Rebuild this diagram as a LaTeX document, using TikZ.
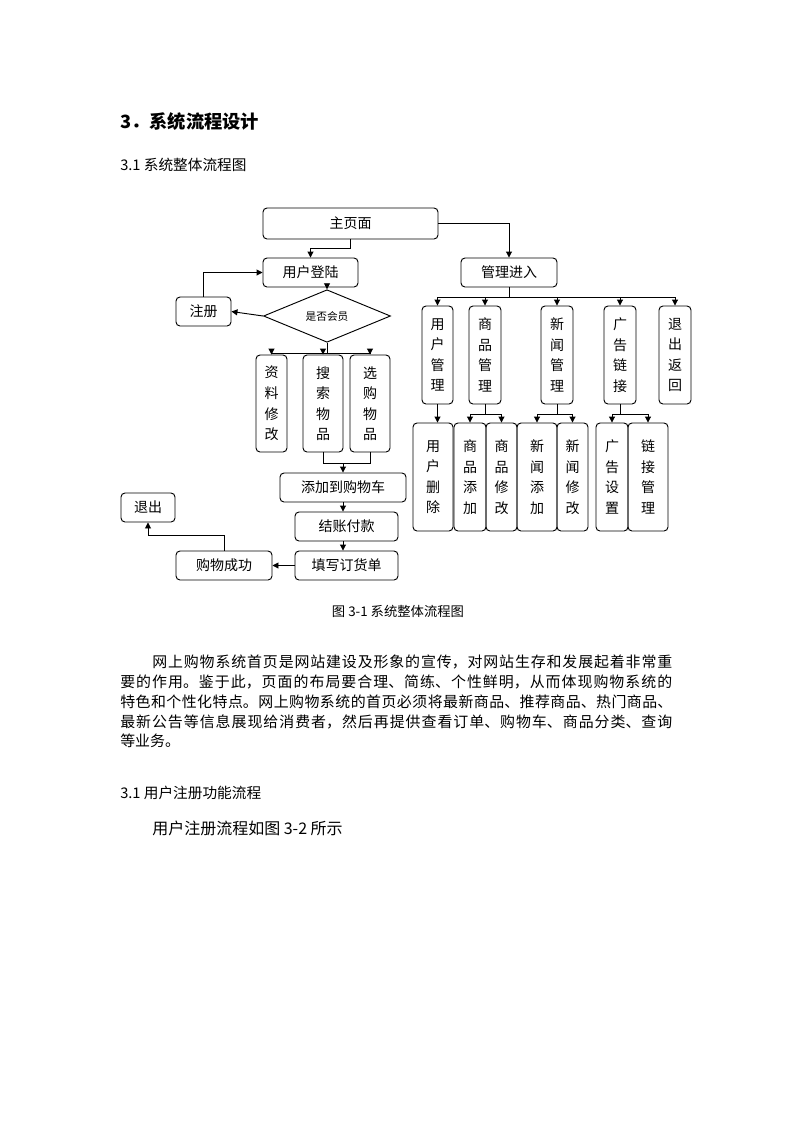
\documentclass[tikz,border=0pt]{standalone}
\usepackage{fontspec}
\setmainfont{Noto Sans CJK SC}
\usetikzlibrary{arrows.meta,shapes.geometric}
\XeTeXlinebreaklocale "zh"
\XeTeXlinebreakskip=0pt plus 3pt minus 1pt
\newcommand\jline[1]{\parbox{414pt}{\parindent0pt\parfillskip0pt\relax #1}}
\begin{document}
\begin{tikzpicture}[x=0.75pt,y=-0.75pt,
  box/.style={draw, rounded corners=3pt, line width=0.7pt, inner sep=0pt,
    font=\fontsize{10.5}{15.4}\selectfont, align=center},
  bw/.style={minimum width=#1*0.75pt},
  bh/.style={minimum height=#1*0.75pt},
  ln/.style={line width=0.7pt},
  arr/.style={ln, -{Triangle[length=4.5pt,width=4.5pt]}},
  ptext/.style={anchor=west, inner sep=0pt, font=\fontsize{11.2}{14}\selectfont}]
\useasboundingbox (0,0) rectangle (793,1122);

% headings
\node[anchor=west, inner sep=0pt, font=\fontsize{13.7}{16}\selectfont\bfseries] (h1) at (120,122) {3．系统流程设计};
\node[anchor=west, inner sep=0pt, font=\fontsize{11}{13}\selectfont] (h2) at (120,165) {3.1 系统整体流程图};

% left branch
\node[box, bw=175, bh=31] (main) at (350.5,223.5) {主页面};
\node[box, bw=95, bh=29] (login) at (310.5,272.5) {用户登陆};
\node[box, bw=55, bh=29] (reg) at (203.5,311.5) {注册};
\node[draw, diamond, line width=0.7pt, inner sep=0pt, minimum width=127*0.75pt, minimum height=38*0.75pt,
  font=\fontsize{8}{9}\selectfont] (dia) at (327,316) {是否会员};
\node[box, bw=31, bh=97] (zl) at (271.5,403.5) {资\\料\\修\\改};
\node[box, bw=40, bh=97] (ss) at (323,403.5) {搜\\索\\物\\品};
\node[box, bw=40, bh=97] (xg) at (370,403.5) {选\\购\\物\\品};
\node[box, bw=126, bh=29] (add) at (343,487.5) {添加到购物车};
\node[box, bw=103, bh=29] (pay) at (346.5,526.5) {结账付款};
\node[box, bw=103, bh=29] (fill) at (346.5,565.5) {填写订货单};
\node[box, bw=96, bh=29] (succ) at (224,565.5) {购物成功};
\node[box, bw=54, bh=29] (exit) at (148,507.5) {退出};

% right branch
\node[box, bw=96, bh=29] (mgr) at (509,272.5) {管理进入};
\node[box, bw=31, bh=98] (um) at (437.5,355) {用\\户\\管\\理};
\node[box, bw=32, bh=98] (gm) at (485,355) {商\\品\\管\\理};
\node[box, bw=32, bh=98] (nm) at (557,355) {新\\闻\\管\\理};
\node[box, bw=32, bh=98] (am) at (620,355) {广\\告\\链\\接};
\node[box, bw=32, bh=98] (tr) at (675,355) {退\\出\\返\\回};

\node[box, bw=40, bh=108] (ud) at (433,477) {用\\户\\删\\除};
\node[box, bw=32, bh=108] (ga) at (470,477) {商\\品\\添\\加};
\node[box, bw=31, bh=108] (gx) at (501.5,477) {商\\品\\修\\改};
\node[box, bw=40, bh=108] (na) at (537,477) {新\\闻\\添\\加};
\node[box, bw=31, bh=108] (nx) at (572.5,477) {新\\闻\\修\\改};
\node[box, bw=32, bh=108] (as) at (612,477) {广\\告\\设\\置};
\node[box, bw=40, bh=108] (lm) at (648,477) {链\\接\\管\\理};

% connectors left
\draw[arr] (main.south) -- ++(0,9) -| (login.north);
\draw[arr] (main.east) -| (mgr.north);
\draw[arr] (reg.north) |- (login.west);
\draw[arr] (login.south -| dia.north) -- (dia.north);
\draw[arr] (dia.west) -- (reg.east);
\draw[ln] (dia.south) -- ++(0,11) coordinate (j1);
\draw[ln] (zl.north |- j1) -- (xg.north |- j1);
\draw[arr] (zl.north |- j1) -- (zl.north);
\draw[arr] (ss.north |- j1) -- (ss.north);
\draw[arr] (xg.north |- j1) -- (xg.north);
\draw[ln] (ss.south) -- ++(0,11) coordinate (j2) -| (xg.south);
\draw[arr] (add.north |- j2) -- (add.north);
\draw[arr] (add.south) -- (add.south |- pay.north);
\draw[arr] (pay.south -| add.south) -- (fill.north -| add.south);
\draw[arr] (fill.west) -- (succ.east);
\draw[arr] (succ.north) -- ++(0,-15) -| (exit.south);

% connectors right
\draw[ln] (mgr.south) -- ++(0,10) coordinate (j3);
\draw[ln] (um.north |- j3) -- (tr.north |- j3);
\foreach \n in {um,gm,nm,am,tr} \draw[arr] (\n.north |- j3) -- (\n.north);
\draw[arr] (um.south) -- (um.south |- ud.north);
\draw[ln] (gm.south) -- ++(0,10) coordinate (j4);
\draw[ln] (ga.north |- j4) -- (gx.north |- j4);
\draw[arr] (ga.north |- j4) -- (ga.north);
\draw[arr] (gx.north |- j4) -- (gx.north);
\draw[ln] (nm.south) -- ++(0,10) coordinate (j5);
\draw[ln] (na.north |- j5) -- (nx.north |- j5);
\draw[arr] (na.north |- j5) -- (na.north);
\draw[arr] (nx.north |- j5) -- (nx.north);
\draw[ln] (am.south) -- ++(0,10) coordinate (j6);
\draw[ln] (as.north |- j6) -- (lm.north |- j6);
\draw[arr] (as.north |- j6) -- (as.north);
\draw[arr] (lm.north |- j6) -- (lm.north);

% caption
\node[font=\fontsize{10}{12}\selectfont, inner sep=0pt] (cap) at (398,611) {图 3-1 系统整体流程图};

% paragraph
\node[ptext] (p1) at (120,662) {\jline{\hspace*{24pt}网上购物系统首页是网站建设及形象的宣传，对网站生存和发展起着非常重}};
\node[ptext] (p2) at (120,682) {\jline{要的作用。鉴于此，页面的布局要合理、简练、个性鲜明，从而体现购物系统的}};
\node[ptext] (p3) at (120,702) {\jline{特色和个性化特点。网上购物系统的首页必须将最新商品、推荐商品、热门商品、}};
\node[ptext] (p4) at (120,722) {\jline{最新公告等信息展现给消费者，然后再提供查看订单、购物车、商品分类、查询}};
\node[ptext] (p5) at (120,741) {等业务。};

\node[anchor=west, inner sep=0pt, font=\fontsize{11}{13}\selectfont] (h3) at (120,793) {3.1 用户注册功能流程};
\node[anchor=west, inner sep=0pt, font=\fontsize{12}{14}\selectfont] (p6) at (152,828) {用户注册流程如图 3-2 所示};
\end{tikzpicture}
\end{document}
